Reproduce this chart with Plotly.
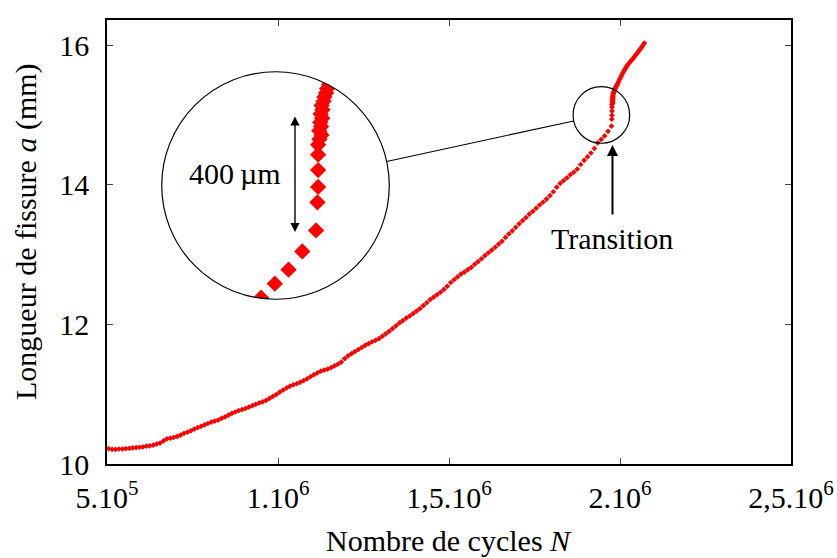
import plotly.graph_objects as go

# ---------------- data ----------------
cycles_k = [
    505, 515, 525, 535, 545, 555, 565, 575, 585, 595,
    605, 615, 625, 635, 645, 655, 665, 675, 685, 695,
    705, 715, 725, 735, 745, 755, 765, 775, 785, 795,
    805, 815, 825, 835, 845, 855, 865, 875, 885, 895,
    905, 915, 925, 935, 945, 955, 965, 975, 985, 995,
    1005, 1015, 1025, 1035, 1045, 1055, 1065, 1075, 1085, 1095,
    1105, 1115, 1125, 1135, 1145, 1155, 1165, 1175, 1185, 1195,
    1205, 1215, 1225, 1235, 1245, 1255, 1265, 1275, 1285, 1295,
    1305, 1315, 1325, 1335, 1345, 1355, 1365, 1375, 1385, 1395,
    1405, 1415, 1425, 1435, 1445, 1455, 1465, 1475, 1485, 1495,
    1505, 1515, 1525, 1535, 1545, 1555, 1565, 1575, 1585, 1595,
    1605, 1615, 1625, 1635, 1645, 1655, 1665, 1675, 1685, 1695,
    1705, 1715, 1725, 1735, 1745, 1755, 1765, 1775, 1785, 1795,
    1805, 1815, 1825, 1835, 1845, 1855, 1865, 1875, 1885, 1895,
    1905, 1915, 1925, 1935, 1945, 1955, 1965, 1975,
    1976.0, 1976.5, 1976.5, 1976.5, 1976.5,
    1977.5, 1979.0, 1977.3, 1978.7, 1978.0, 1979.5, 1978.3, 1979.7, 1979.0, 1980.5,
    1981.0, 1982.3, 1983.0, 1984.5,
    1985.5, 1987.0, 1988.5, 1990.0, 1991.8, 1993.5, 1996.0, 1999.0, 2002.0, 2005.0,
    2008.0, 2011.0, 2014.0, 2017.0, 2020.0, 2023.0, 2027.0, 2031.0, 2035.0, 2038.5,
    2042.0, 2046.0, 2050.0, 2054.0, 2057.0, 2061.0, 2064.5, 2068.0, 2071.0,
]
crack_mm = [
    10.22, 10.21, 10.21, 10.215, 10.215, 10.22, 10.225, 10.23, 10.235, 10.24,
    10.245, 10.255, 10.26, 10.27, 10.285, 10.30, 10.33, 10.36, 10.37, 10.38,
    10.395, 10.415, 10.44, 10.455, 10.475, 10.50, 10.52, 10.54, 10.56, 10.58,
    10.60, 10.615, 10.63, 10.655, 10.675, 10.70, 10.725, 10.745, 10.765, 10.78,
    10.795, 10.815, 10.835, 10.855, 10.875, 10.89, 10.91, 10.94, 10.97, 10.995,
    11.03, 11.06, 11.09, 11.115, 11.135, 11.15, 11.17, 11.195, 11.22, 11.25,
    11.28, 11.305, 11.33, 11.345, 11.36, 11.38, 11.405, 11.43, 11.46, 11.51,
    11.55, 11.58, 11.61, 11.64, 11.67, 11.70, 11.725, 11.75, 11.77, 11.795,
    11.83, 11.865, 11.90, 11.94, 11.98, 12.02, 12.055, 12.09, 12.12, 12.155,
    12.19, 12.225, 12.27, 12.31, 12.355, 12.39, 12.425, 12.46, 12.50, 12.545,
    12.60, 12.64, 12.68, 12.72, 12.75, 12.785, 12.815, 12.86, 12.90, 12.94,
    12.985, 13.025, 13.065, 13.105, 13.15, 13.19, 13.245, 13.295, 13.34, 13.39,
    13.44, 13.485, 13.53, 13.58, 13.62, 13.665, 13.71, 13.75, 13.795, 13.845,
    13.90, 13.965, 14.02, 14.06, 14.10, 14.145, 14.18, 14.225, 14.29, 14.35,
    14.40, 14.455, 14.52, 14.60, 14.65, 14.70, 14.765, 14.84,
    14.94, 14.995, 15.055, 15.11, 15.145,
    15.165, 15.18, 15.195, 15.21, 15.225, 15.24, 15.255, 15.27, 15.285, 15.30,
    15.315, 15.33, 15.345, 15.36,
    15.375, 15.39, 15.405, 15.42, 15.435, 15.45, 15.48, 15.51, 15.54, 15.57,
    15.60, 15.625, 15.65, 15.675, 15.70, 15.72, 15.745, 15.77, 15.79, 15.81,
    15.835, 15.86, 15.885, 15.91, 15.93, 15.955, 15.98, 16.005, 16.03,
]
x_tick_vals = [5e5, 1e6, 1.5e6, 2e6, 2.5e6]
x_tick_text = ["5.10<sup>5</sup>", "1.10<sup>6</sup>", "1,5.10<sup>6</sup>",
               "2.10<sup>6</sup>", "2,5.10<sup>6</sup>"]
y_tick_vals = [10, 12, 14, 16]
y_tick_text = ["10", "12", "14", "16"]
x_title = "Nombre de cycles <i>N</i>"
y_title = "Longueur de fissure <i>a</i> (mm)"
inset_label = "400\u2009µm"
transition_label = "Transition"

# spy (magnifier) definition
SPY_N, SPY_A = 1.9455e6, 15.0

# ---------------- layout geometry ----------------
W, H = 837, 558
ML, MR, MT, MB = 107, 46, 20, 94
PW, PH = W - ML - MR, H - MT - MB
X_RANGE = [5e5, 2.5e6]
Y_RANGE = [10, 16.36]
N_PER_PX = (X_RANGE[1] - X_RANGE[0]) / PW
A_PER_PX = (Y_RANGE[1] - Y_RANGE[0]) / PH
R_SMALL = 28.3
MAG = 4.02
R_BIG = R_SMALL * MAG
BIG_CX, BIG_CY = 275.5, 185.5
FONT = "Liberation Serif, Times New Roman, serif"
RED = "#ff0000"


def pp(px, py):
    return (px - ML) / PW, (H - MB - py) / PH


def d2px(n, a):
    return ML + (n - X_RANGE[0]) / N_PER_PX, H - MB - (a - Y_RANGE[0]) / A_PER_PX


cycles = [c * 1000 for c in cycles_k]

fig = go.Figure()
fig.add_trace(go.Scatter(x=cycles, y=crack_mm, mode="markers",
                         marker=dict(symbol="diamond", size=4.4, color=RED, line=dict(width=0)),
                         cliponaxis=False, hoverinfo="skip", showlegend=False))
fig.add_trace(go.Scatter(x=cycles, y=crack_mm, mode="markers", xaxis="x2", yaxis="y2",
                         marker=dict(symbol="diamond", size=12.5, color=RED, line=dict(width=0)),
                         hoverinfo="skip", showlegend=False))

sx, sy = d2px(SPY_N, SPY_A)

axis_common = dict(showgrid=False, zeroline=False, showline=True, linecolor="black",
                   linewidth=1.8, mirror="ticks", ticks="inside", ticklen=6,
                   tickwidth=1, tickcolor="#444", automargin=False,
                   tickfont=dict(family=FONT, size=30, color="black"))

fig.update_layout(
    width=W, height=H, margin=dict(l=ML, r=MR, t=MT, b=MB, autoexpand=False),
    paper_bgcolor="white", plot_bgcolor="white",
    xaxis=dict(range=X_RANGE, tickvals=x_tick_vals, ticktext=x_tick_text,
               ticklabelstandoff=6, **axis_common),
    yaxis=dict(range=Y_RANGE, tickvals=y_tick_vals, ticktext=y_tick_text,
               ticklabelstandoff=10, **axis_common),
    xaxis2=dict(domain=[(BIG_CX - R_BIG - ML) / PW, (BIG_CX + R_BIG - ML) / PW],
                range=[SPY_N - R_SMALL * N_PER_PX, SPY_N + R_SMALL * N_PER_PX],
                anchor="y2", visible=False, showgrid=False, zeroline=False, automargin=False),
    yaxis2=dict(domain=[(H - MB - (BIG_CY + R_BIG)) / PH, (H - MB - (BIG_CY - R_BIG)) / PH],
                range=[SPY_A - R_SMALL * A_PER_PX, SPY_A + R_SMALL * A_PER_PX],
                anchor="x2", visible=False, showgrid=False, zeroline=False, automargin=False),
    showlegend=False,
)

# white mask: square minus circle around the magnified view
def fmt(px, py):
    x, y = pp(px, py)
    return f"{x:.6f},{y:.6f}"

pad = 8
cx, cy, r = BIG_CX, BIG_CY, R_BIG
k = 0.5523 * r
left, right, top, bot = cx - r - pad, cx + r + pad, cy - r - pad, cy + r + pad
path = (f"M{fmt(left, top)} L{fmt(left, bot)} L{fmt(right, bot)} L{fmt(right, top)} Z "
        f"M{fmt(cx + r, cy)} "
        f"C{fmt(cx + r, cy + k)} {fmt(cx + k, cy + r)} {fmt(cx, cy + r)} "
        f"C{fmt(cx - k, cy + r)} {fmt(cx - r, cy + k)} {fmt(cx - r, cy)} "
        f"C{fmt(cx - r, cy - k)} {fmt(cx - k, cy - r)} {fmt(cx, cy - r)} "
        f"C{fmt(cx + k, cy - r)} {fmt(cx + r, cy - k)} {fmt(cx + r, cy)} Z")
fig.add_shape(type="path", path=path, xref="paper", yref="paper", layer="above",
              fillcolor="white", fillrule="evenodd", line=dict(width=0))

# circles
for (ccx, ccy, rr) in [(BIG_CX, BIG_CY, R_BIG), (sx, sy, R_SMALL)]:
    x0, y0 = pp(ccx - rr, ccy + rr)
    x1, y1 = pp(ccx + rr, ccy - rr)
    fig.add_shape(type="circle", xref="paper", yref="paper", x0=x0, y0=y0, x1=x1, y1=y1,
                  layer="above", line=dict(color="black", width=1.2))

# connection line between circles
dx, dy = sx - BIG_CX, sy - BIG_CY
dl = (dx ** 2 + dy ** 2) ** 0.5
ux, uy = dx / dl, dy / dl
lx0, ly0 = pp(BIG_CX + R_BIG * ux, BIG_CY + R_BIG * uy)
lx1, ly1 = pp(sx - R_SMALL * ux, sy - R_SMALL * uy)
fig.add_shape(type="line", xref="paper", yref="paper", x0=lx0, y0=ly0, x1=lx1, y1=ly1,
              layer="above", line=dict(color="black", width=1.1))

# annotations
def ann(px, py, text, **kw):
    x, y = pp(px, py)
    d = dict(x=x, y=y, xref="paper", yref="paper", text=text, showarrow=False,
             xanchor="center", yanchor="middle",
             font=dict(family=FONT, size=30, color="black"))
    d.update(kw)
    fig.add_annotation(**d)

ann(235, 173, inset_label)
# double arrow in inset
ax_, ay_ = pp(295, 116.5)
fig.add_annotation(x=ax_, y=ay_, xref="paper", yref="paper", text="", showarrow=True,
                   ax=0, ay=233.5 - 116.5, axref="pixel", ayref="pixel",
                   arrowhead=2, arrowside="end+start", arrowsize=1.3, arrowwidth=1.4,
                   arrowcolor="black")
# transition arrow
tx_, ty_ = pp(612.5, 145)
fig.add_annotation(x=tx_, y=ty_, xref="paper", yref="paper", text="", showarrow=True,
                   ax=0, ay=216 - 145, arrowhead=2, arrowsize=1.1, arrowwidth=2,
                   arrowcolor="black")
ann(612, 239, transition_label)

# axis titles
ann(449, 540, x_title)
ann(26, 232, y_title, textangle=-90)

fig.write_html("out.html", config={"displayModeBar": False, "staticPlot": True},
               post_script="document.body.style.margin='0';document.body.style.padding='0';"
                           "document.documentElement.style.overflow='hidden';")
